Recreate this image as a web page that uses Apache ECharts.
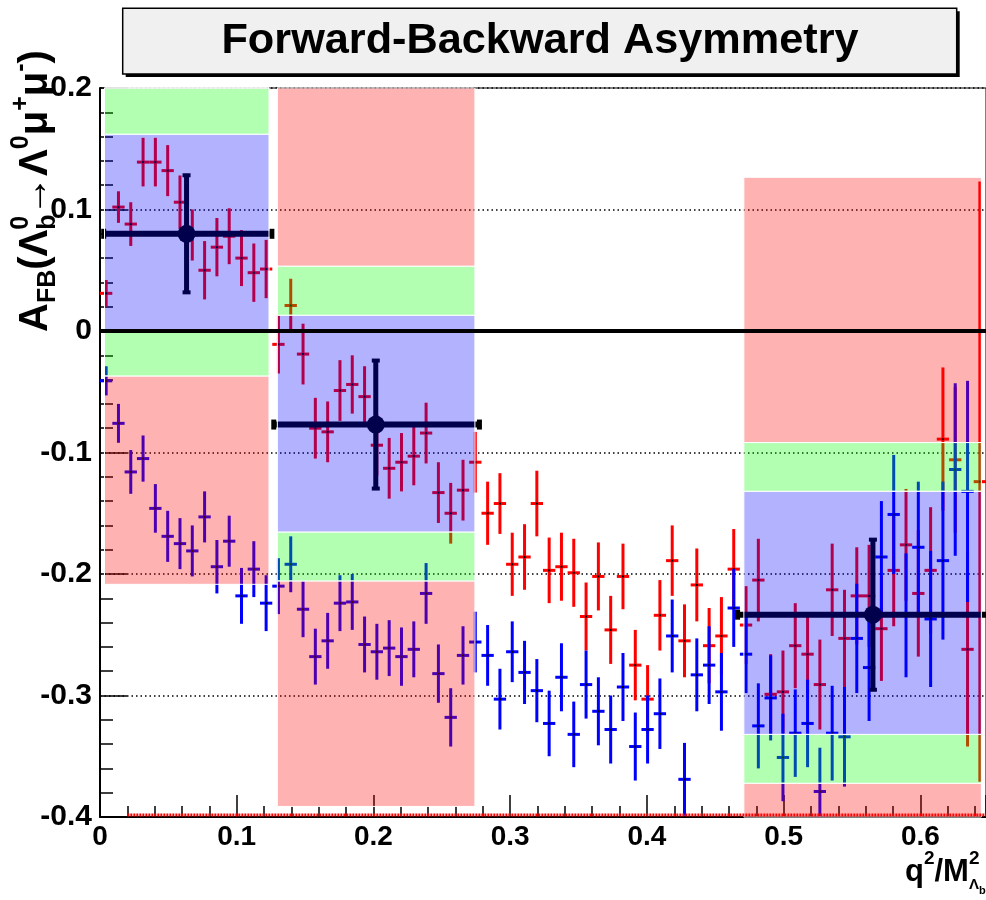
<!DOCTYPE html>
<html>
<head>
<meta charset="utf-8">
<title>Forward-Backward Asymmetry</title>
<script src="https://cdn.jsdelivr.net/npm/echarts@6/dist/echarts.min.js"></script>
<style>
  html, body { margin: 0; padding: 0; background: #fff; }
  #container { width: 986px; height: 900px; }
</style>
</head>
<body>
<div id="container"></div>
<script>
// bin centres (q^2/M^2)
var binX = [0.0045, 0.0135, 0.0225, 0.0315, 0.0405, 0.0495, 0.0585, 0.0675, 0.0765, 0.0855,
  0.0945, 0.1035, 0.1125, 0.1215, 0.1305, 0.1395, 0.1485, 0.1575, 0.1665, 0.1755,
  0.1845, 0.1935, 0.2025, 0.2115, 0.2205, 0.2295, 0.2385, 0.2475, 0.2565, 0.2655,
  0.2745, 0.2835, 0.2925, 0.3015, 0.3105, 0.3195, 0.3285, 0.3375, 0.3465, 0.3555,
  0.3645, 0.3735, 0.3825, 0.3915, 0.4005, 0.4095, 0.4185, 0.4275, 0.4365, 0.4455,
  0.4545, 0.4635, 0.4725, 0.4815, 0.4905, 0.4995, 0.5085, 0.5175, 0.5265, 0.5355,
  0.5445, 0.5535, 0.5625, 0.5715, 0.5805, 0.5895, 0.5985, 0.6075, 0.6165, 0.6255,
  0.6345, 0.6435];

// red points
var redY = [0.031, 0.102, 0.088, 0.139, 0.139, 0.132, 0.106, 0.079, 0.050, 0.069,
  0.078, 0.060, 0.048, 0.051, -0.011, 0.021, -0.019, -0.080, -0.083, -0.049,
  -0.044, -0.054, -0.094, -0.113, -0.108, -0.103, -0.084, -0.133, -0.150, -0.131,
  -0.108, -0.150, -0.142, -0.192, -0.186, -0.142, -0.197, -0.194, -0.199, -0.235,
  -0.202, -0.246, -0.202, -0.275, -0.303, -0.234, -0.189, -0.255, -0.209, -0.259,
  -0.251, -0.196, -0.242, -0.205, -0.299, -0.297, -0.259, -0.266, -0.291, -0.213,
  -0.253, -0.218, -0.218, -0.245, -0.197, -0.176, -0.216, -0.197, -0.089, -0.106,
  -0.262, -0.124];
var redErr = [0.011, 0.013, 0.018, 0.020, 0.020, 0.021, 0.022, 0.021, 0.024, 0.024,
  0.023, 0.023, 0.024, 0.024, 0.024, 0.022, 0.025, 0.025, 0.025, 0.025,
  0.024, 0.025, 0.025, 0.025, 0.024, 0.024, 0.025, 0.025, 0.025, 0.025,
  0.025, 0.026, 0.025, 0.026, 0.027, 0.027, 0.027, 0.028, 0.028, 0.028,
  0.028, 0.028, 0.027, 0.029, 0.028, 0.029, 0.029, 0.030, 0.030, 0.031,
  0.032, 0.033, 0.032, 0.034, 0.033, 0.034, 0.035, 0.033, 0.037, 0.038,
  0.040, 0.040, 0.042, 0.043, 0.046, 0.046, 0.052, 0.052, 0.059, 0.060,
  0.080, 0.247];

// blue points
var blueY = [-0.041, -0.076, -0.116, -0.105, -0.146, -0.169, -0.175, -0.181, -0.153, -0.194,
  -0.173, -0.218, -0.196, -0.224, -0.210, -0.192, -0.229, -0.268, -0.255, -0.224,
  -0.223, -0.258, -0.264, -0.261, -0.268, -0.262, -0.216, -0.282, -0.318, -0.267,
  -0.256, -0.267, -0.303, -0.264, -0.281, -0.296, -0.323, -0.285, -0.332, -0.291,
  -0.313, -0.328, -0.293, -0.342, -0.328, -0.315, -0.251, -0.369, -0.283, -0.275,
  -0.297, -0.228, -0.266, -0.325, -0.302, -0.351, -0.331, -0.323, -0.379, -0.331,
  -0.334, -0.253, -0.277, -0.186, -0.151, -0.234, -0.178, -0.237, -0.189, -0.114,
  -0.132];
var blueErr = [0.012, 0.016, 0.018, 0.019, 0.020, 0.021, 0.021, 0.021, 0.021, 0.022,
  0.021, 0.023, 0.023, 0.023, 0.023, 0.023, 0.023, 0.023, 0.023, 0.023,
  0.023, 0.023, 0.023, 0.023, 0.024, 0.023, 0.025, 0.024, 0.024, 0.024,
  0.025, 0.025, 0.025, 0.025, 0.026, 0.026, 0.027, 0.028, 0.027, 0.028,
  0.028, 0.028, 0.028, 0.028, 0.028, 0.029, 0.030, 0.030, 0.030, 0.032,
  0.032, 0.032, 0.032, 0.035, 0.035, 0.036, 0.036, 0.036, 0.036, 0.039,
  0.041, 0.045, 0.044, 0.046, 0.049, 0.051, 0.054, 0.056, 0.065, 0.071,
  0.091];

// black reference points per q^2 region
var refX = [0.0633, 0.2017, 0.5653];
var refXLo = [0.0016, 0.1260, 0.4652];
var refXHi = [0.1268, 0.2786, 0.6654];
var refY = [0.080, -0.077, -0.2335];
var refErr = [0.049, 0.0535, 0.0626];

// shaded bands per region
var bandX0 = [0.0033, 0.1297, 0.4709];
var bandX1 = [0.1236, 0.2742, 0.6446];
var blueLo = [0.000, -0.1654, -0.3320];
var blueHi = [0.162, 0.0130, -0.1319];
var greenLo = [-0.037, -0.2057, -0.3722];
var greenHi = [0.200, 0.0534, -0.0918];
var redLo = [-0.2085, -0.3913, -0.594];
var redHi = [0.368, 0.237, 0.1265];

// red line along the bottom
var baseLine = [0.02, 0.648, -0.4];

var xMin = 0, xMax = 0.648, yMin = -0.4, yMax = 0.2;
var halfBin = 0.0045;
var FONT = '"Liberation Sans", Arial, sans-serif';

function clampY(v) { return Math.max(yMin, Math.min(yMax, v)); }

var redData = binX.map(function (x, i) { return [x, redY[i], redErr[i]]; });
var blueData = blueY.map(function (y, i) { return [binX[i], y, blueErr[i]]; });
var refData = refX.map(function (x, i) { return [x, refY[i], refErr[i], refXLo[i], refXHi[i]]; });

var bandSegments = [];
for (var b = 0; b < bandX0.length; b++) {
  [[redLo[b], greenLo[b], 0], [greenLo[b], blueLo[b], 1], [blueLo[b], blueHi[b], 2],
   [blueHi[b], greenHi[b], 1], [greenHi[b], redHi[b], 0]].forEach(function (c) {
    if (c[1] > c[0]) bandSegments.push([bandX0[b], bandX1[b], c[0], c[1], c[2]]);
  });
}
var bandColors = ['rgba(255,0,0,0.3)', 'rgba(0,255,0,0.3)', 'rgba(0,0,255,0.3)'];

function crossRenderer(color) {
  return function (params, api) {
    var x = api.value(0), y = api.value(1), e = api.value(2);
    var top = api.coord([x, clampY(y + e)]);
    var bot = api.coord([x, clampY(y - e)]);
    var l = api.coord([x - halfBin, y]);
    var r = api.coord([x + halfBin, y]);
    var c = api.coord([x, y]);
    return {
      type: 'group',
      children: [
        { type: 'line', shape: { x1: top[0], y1: top[1], x2: bot[0], y2: bot[1] }, style: { stroke: color, lineWidth: 3 } },
        { type: 'line', shape: { x1: l[0], y1: l[1], x2: r[0], y2: r[1] }, style: { stroke: color, lineWidth: 3 } },
        { type: 'rect', shape: { x: c[0] - 1, y: c[1] - 1, width: 2, height: 2 }, style: { fill: '#000' } }
      ]
    };
  };
}

function renderRef(params, api) {
  var x = api.value(0), y = api.value(1), e = api.value(2);
  var lo = api.coord([api.value(3), y]);
  var hi = api.coord([Math.min(api.value(4), xMax), y]);
  var hiFull = api.coord([api.value(4), y]);
  var top = api.coord([x, y + e]);
  var bot = api.coord([x, y - e]);
  var c = api.coord([x, y]);
  var kids = [
    { type: 'line', shape: { x1: lo[0], y1: lo[1], x2: hi[0], y2: hi[1] }, style: { stroke: '#000', lineWidth: 6 } },
    { type: 'line', shape: { x1: top[0], y1: top[1], x2: bot[0], y2: bot[1] }, style: { stroke: '#000', lineWidth: 5 } },
    { type: 'rect', shape: { x: top[0] - 4, y: top[1] - 1, width: 8, height: 4 }, style: { fill: '#000' } },
    { type: 'rect', shape: { x: bot[0] - 4, y: bot[1] - 3, width: 8, height: 4 }, style: { fill: '#000' } },
    { type: 'rect', shape: { x: lo[0] - 1, y: lo[1] - 5, width: 5, height: 10 }, style: { fill: '#000' } },
    { type: 'circle', shape: { cx: c[0], cy: c[1], r: 9 }, style: { fill: '#000' } }
  ];
  if (hiFull[0] === hi[0]) {
    kids.push({ type: 'rect', shape: { x: hi[0] - 4, y: hi[1] - 5, width: 5, height: 10 }, style: { fill: '#000' } });
  }
  return { type: 'group', children: kids };
}

function renderBand(params, api) {
  var p0 = api.coord([api.value(0), api.value(3)]);
  var p1 = api.coord([api.value(1), api.value(2)]);
  var cs = params.coordSys;
  var shape = echarts.graphic.clipRectByRect(
    { x: p0[0], y: p0[1], width: p1[0] - p0[0], height: p1[1] - p0[1] },
    { x: cs.x, y: cs.y, width: cs.width, height: cs.height });
  return shape && {
    type: 'rect', shape: shape,
    style: { fill: bandColors[api.value(4)], stroke: '#fff', lineWidth: 1 }
  };
}

function renderBaseLine(params, api) {
  var a = api.coord([api.value(0), api.value(2)]);
  var z = api.coord([api.value(1), api.value(2)]);
  return {
    type: 'line',
    shape: { x1: a[0], y1: a[1] - 2, x2: z[0], y2: z[1] - 2 },
    style: { stroke: '#ff0000', lineWidth: 3, lineDash: [2, 1] }
  };
}

// multi-size label built from pieces, laid out along a baseline
var measureCtx = document.createElement('canvas').getContext('2d');
function textWidth(str, size) {
  measureCtx.font = 'bold ' + size + 'px ' + FONT;
  return measureCtx.measureText(str).width;
}
function buildLabel(pieces) {
  var kids = [], x = 0;
  pieces.forEach(function (p) {
    kids.push({
      type: 'text', x: x, y: p.dy,
      style: { text: p.t, fontSize: p.s, fontWeight: 'bold', fontFamily: FONT, fill: '#000', verticalAlign: 'middle', align: 'left' }
    });
    if (!p.stack) x += textWidth(p.t, p.s);
  });
  return kids;
}

var M = 40, S = 25;
var yTitle = buildLabel([
  { t: 'A', s: M, dy: 0 }, { t: 'FB', s: S, dy: 12 }, { t: '(', s: M, dy: 0 }, { t: 'Λ', s: M, dy: 0 },
  { t: 'b', s: S, dy: 12, stack: true }, { t: '0', s: S, dy: -15 }, { t: '→', s: M, dy: 0 },
  { t: 'Λ', s: M, dy: 0 }, { t: '0', s: S, dy: -15 }, { t: 'μ', s: M, dy: 0 }, { t: '+', s: S, dy: -15 },
  { t: 'μ', s: M, dy: 0 }, { t: '-', s: S, dy: -15 }, { t: ')', s: M, dy: 0 }
]);
var xTitle = buildLabel([
  { t: 'q', s: 31, dy: 0 }, { t: '2', s: 19, dy: -13 }, { t: '/', s: 31, dy: 0 }, { t: 'M', s: 31, dy: 0 },
  { t: '2', s: 19, dy: -13, stack: true }, { t: 'Λ', s: 15, dy: 13 }, { t: 'b', s: 11, dy: 19 }
]);

var option = {
  animation: false,
  backgroundColor: '#fff',
  grid: { left: 100, right: 0, top: 88, bottom: 83, show: true, borderColor: '#000', borderWidth: 1, outerBoundsMode: 'none' },
  xAxis: {
    type: 'value', min: xMin, max: xMax, interval: 0.1,
    axisLine: { show: true, onZero: false, lineStyle: { color: '#000', width: 2 } },
    axisTick: { show: true, inside: true, length: 22, lineStyle: { color: '#000', width: 1.5 } },
    minorTick: { show: true, splitNumber: 5, length: 11, lineStyle: { color: '#000', width: 1.5 } },
    axisLabel: { color: '#000', fontSize: 28, fontWeight: 'bold', fontFamily: FONT, margin: 6, showMaxLabel: false },
    splitLine: { show: false }
  },
  yAxis: {
    type: 'value', min: yMin, max: yMax, interval: 0.1,
    axisLine: { show: true, onZero: false, lineStyle: { color: '#000', width: 2 } },
    axisTick: { show: true, inside: true, length: 27, lineStyle: { color: '#000', width: 1.5 } },
    minorTick: { show: true, splitNumber: 5, length: 13, lineStyle: { color: '#000', width: 1.5 } },
    axisLabel: { color: '#000', fontSize: 30, fontWeight: 'bold', fontFamily: FONT, margin: 8 },
    splitLine: { show: true, lineStyle: { color: '#000', width: 1.5, type: [1.5, 3] } }
  },
  graphic: [
    { type: 'rect', shape: { x: 125.7, y: 11.3, width: 834, height: 65.7 }, style: { fill: '#000' } },
    { type: 'rect', shape: { x: 122.7, y: 8.3, width: 834, height: 65.7 }, style: { fill: '#f0f0f0', stroke: '#000', lineWidth: 1.5 } },
    {
      type: 'text', x: 540, y: 41, scaleX: 1.03,
      style: { text: 'Forward-Backward Asymmetry', fontSize: 42, fontWeight: 'bold', fontFamily: FONT, fill: '#000', align: 'center', verticalAlign: 'middle' }
    },
    { type: 'group', x: 36, y: 332, rotation: Math.PI / 2, children: yTitle },
    { type: 'group', x: 905, y: 872, children: xTitle }
  ],
  series: [
    { type: 'custom', name: 'red', renderItem: crossRenderer('#ff0000'), data: redData, z: 2 },
    { type: 'custom', name: 'blue', renderItem: crossRenderer('#0000ff'), data: blueData, z: 3 },
    { type: 'custom', name: 'reference', renderItem: renderRef, data: refData, z: 4 },
    { type: 'custom', name: 'bands', renderItem: renderBand, data: bandSegments, z: 5 },
    { type: 'custom', name: 'base', renderItem: renderBaseLine, data: [baseLine], z: 6 },
    {
      type: 'line', name: 'zero', data: [[xMin, 0], [xMax, 0]], symbol: 'none', z: 10,
      lineStyle: { color: '#000', width: 4 }
    }
  ]
};

var mychart = echarts.init(document.getElementById('container'));
mychart.setOption(option);
</script>
</body>
</html>
